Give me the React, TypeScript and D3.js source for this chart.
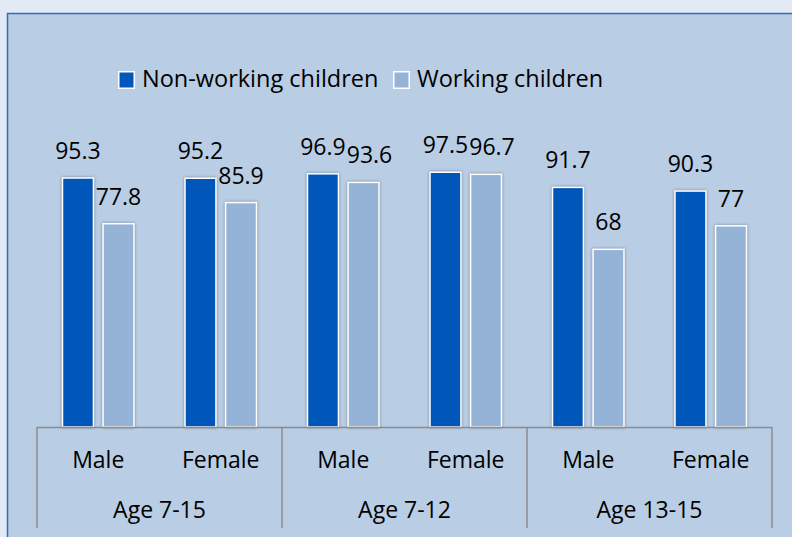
import React, { useEffect, useRef } from "react";
import * as d3 from "d3";

const groups = ["Age 7-15", "Age 7-12", "Age 13-15"];
const genders = ["Male", "Female"];
const seriesNames = ["Non-working children", "Working children"];
const nonWorking = [95.3, 95.2, 96.9, 97.5, 91.7, 90.3];
const working = [77.8, 85.9, 93.6, 96.7, 68, 77];

const colors = ["#0057b9", "#95b3d7"];
const FONT = "'Open Sans', 'Noto Sans', sans-serif";

const App: React.FC = () => {
  const svgRef = useRef<SVGSVGElement | null>(null);

  useEffect(() => {
    if (!svgRef.current) return;
    const svg = d3.select(svgRef.current);
    svg.selectAll("*").remove();

    const width = 792;
    const height = 537;
    const plot = { left: 37, right: 772, baseline: 427 };

    // background + chart area
    svg.append("rect").attr("width", width).attr("height", height).attr("fill", "#e4eaf5");
    svg
      .append("rect")
      .attr("x", 7.5)
      .attr("y", 13.5)
      .attr("width", width + 20)
      .attr("height", height + 20)
      .attr("fill", "#b9cde4")
      .attr("stroke", "#2e6fb6")
      .attr("stroke-width", 1.5);

    const categories = groups.flatMap((g) => genders.map((s) => `${g}|${s}`));
    const rows = categories.map((c, i) => ({ key: c, values: [nonWorking[i], working[i]] }));

    const x0 = d3
      .scaleBand<string>()
      .domain(categories)
      .range([plot.left, plot.right])
      .paddingInner(0.404)
      .paddingOuter(0.202);

    const x1 = d3
      .scaleBand<number>()
      .domain([0, 1])
      .range([0, x0.bandwidth()])
      .paddingInner(0.2);

    const y = d3
      .scaleLinear()
      .domain([0, 100])
      .range([plot.baseline, plot.baseline - 261.3]);

    const gBars = svg.append("g");
    rows.forEach((row) => {
      row.values.forEach((v, si) => {
        const bx = (x0(row.key) as number) + (x1(si) as number);
        gBars
          .append("rect")
          .attr("x", bx + 0.75)
          .attr("y", y(v))
          .attr("width", x1.bandwidth() - 1.5)
          .attr("height", plot.baseline - y(v))
          .attr("fill", colors[si])
          .attr("stroke", "#ffffff")
          .attr("stroke-width", 1.5)
          .style("filter", "drop-shadow(0px 0px 1.5px rgba(0,0,0,0.35))");

        // nudge the second label right when it would collide with the first
        const crowded = si === 1 && Math.abs(y(row.values[0]) - y(v)) < 22;
        gBars
          .append("text")
          .attr("x", bx + x1.bandwidth() / 2 + (crowded ? 6 : 0))
          .attr("y", y(v) - 19)
          .attr("text-anchor", "middle")
          .style("font-family", FONT)
          .style("font-size", "23px")
          .style("fill", "#000")
          .text(String(v));
      });
    });

    // axis
    const axisColor = "#8c8c8c";
    svg
      .append("line")
      .attr("x1", plot.left)
      .attr("x2", plot.right)
      .attr("y1", plot.baseline + 0.5)
      .attr("y2", plot.baseline + 0.5)
      .attr("stroke", axisColor)
      .attr("stroke-width", 1.5);

    const step = x0.step();
    const groupWidth = step * genders.length;
    d3.range(groups.length + 1).forEach((i) => {
      const gx = plot.left + i * groupWidth;
      svg
        .append("line")
        .attr("x1", gx)
        .attr("x2", gx)
        .attr("y1", plot.baseline)
        .attr("y2", 528)
        .attr("stroke", axisColor)
        .attr("stroke-width", 1.5);
    });

    categories.forEach((c) => {
      svg
        .append("text")
        .attr("x", (x0(c) as number) + x0.bandwidth() / 2)
        .attr("y", 468)
        .attr("text-anchor", "middle")
        .style("font-family", FONT)
        .style("font-size", "23px")
        .style("fill", "#000")
        .text(c.split("|")[1]);
    });

    groups.forEach((g, i) => {
      svg
        .append("text")
        .attr("x", plot.left + (i + 0.5) * groupWidth)
        .attr("y", 518)
        .attr("text-anchor", "middle")
        .style("font-family", FONT)
        .style("font-size", "23px")
        .style("fill", "#000")
        .text(g);
    });

    // legend
    const legend = svg.append("g").attr("transform", "translate(118,71)");
    const legendX = [0, 275];
    seriesNames.forEach((name, i) => {
      legend
        .append("rect")
        .attr("x", legendX[i] + 0.75)
        .attr("y", 0.75)
        .attr("width", 15.5)
        .attr("height", 16.5)
        .attr("fill", colors[i])
        .attr("stroke", "#ffffff")
        .attr("stroke-width", 1.5);
      legend
        .append("text")
        .attr("x", legendX[i] + 24)
        .attr("y", 16)
        .style("font-family", FONT)
        .style("font-size", "23.5px")
        .style("fill", "#000")
        .text(name);
    });
  }, []);

  return (
    <div style={{ position: "fixed", left: 0, top: 0 }}>
      <svg ref={svgRef} width={792} height={537} style={{ display: "block" }} />
    </div>
  );
};

export default App;
